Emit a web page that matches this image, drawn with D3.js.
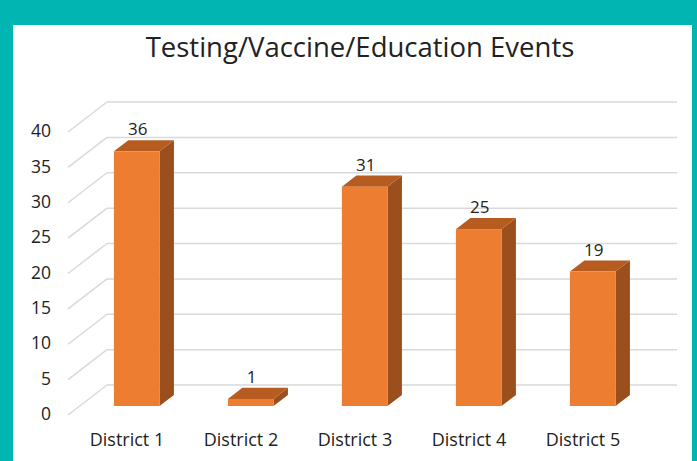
<!DOCTYPE html>
<html>
<head>
<meta charset="utf-8">
<script src="https://cdn.jsdelivr.net/npm/d3@7"></script>
<style>
  html, body { margin: 0; padding: 0; background: #00b5b2; }
  #chart { width: 697px; height: 461px; }
  text { font-family: "Open Sans", sans-serif; fill: #222222; }
</style>
</head>
<body>
<div id="chart"></div>
<script>
// Chart data
const districts = ["District 1", "District 2", "District 3", "District 4", "District 5"];
const events = [36, 1, 31, 25, 19];
const yTicks = [0, 5, 10, 15, 20, 25, 30, 35, 40];
const title = "Testing/Vaccine/Education Events";

const width = 697;
const height = 461;

const svg = d3.select("#chart")
    .append("svg")
    .attr("width", width)
    .attr("height", height);

// White chart area inside the teal frame
svg.append("rect")
    .attr("x", 13).attr("y", 25)
    .attr("width", 679).attr("height", height - 25)
    .attr("fill", "#ffffff");

// Front plane scales, depth is an oblique offset
const x = d3.scaleBand()
    .domain(districts)
    .range([68, 638])
    .paddingInner(0.6)
    .paddingOuter(0.3);

const y = d3.scaleLinear()
    .domain([0, 40])
    .range([415, 132]);

const depthX = 39, depthY = 30;   // wall depth
const barFront = 0.3, barBack = 0.67;  // bar position in depth (0 = front, 1 = back wall)

const px = (xv, z) => xv + depthX * z;
const py = (v, z) => y(v) - depthY * z;

const gridColor = "#d9d9d9";

// Back wall gridlines
svg.append("g")
    .selectAll("line")
    .data(yTicks)
    .enter().append("line")
    .attr("x1", px(68, 1))
    .attr("x2", px(638, 1))
    .attr("y1", d => py(d, 1))
    .attr("y2", d => py(d, 1))
    .attr("stroke", gridColor)
    .attr("stroke-width", 1.5);

// Side wall diagonals
svg.append("g")
    .selectAll("line")
    .data(yTicks)
    .enter().append("line")
    .attr("x1", px(68, 0))
    .attr("x2", px(68, 1))
    .attr("y1", d => py(d, 0))
    .attr("y2", d => py(d, 1))
    .attr("stroke", gridColor)
    .attr("stroke-width", 1.5);

// Y axis labels
svg.append("g")
    .selectAll("text")
    .data(yTicks)
    .enter().append("text")
    .attr("x", 51)
    .attr("y", d => y(d) - 1)
    .attr("dy", "0.35em")
    .attr("text-anchor", "end")
    .attr("font-size", 17.5)
    .text(d => d);

// 3D bars
const bars = svg.append("g")
    .selectAll("g")
    .data(districts.map((d, i) => ({ name: d, value: events[i] })))
    .enter().append("g");

const poly = pts => pts.map(p => p.join(",")).join(" ");

// side face
bars.append("polygon")
    .attr("points", d => {
        const x1 = x(d.name) + x.bandwidth();
        return poly([
            [px(x1, barFront), py(0, barFront)],
            [px(x1, barFront), py(d.value, barFront)],
            [px(x1, barBack), py(d.value, barBack)],
            [px(x1, barBack), py(0, barBack)]
        ]);
    })
    .attr("fill", "#9a4f1d");

// top face
bars.append("polygon")
    .attr("points", d => {
        const x0 = x(d.name), x1 = x0 + x.bandwidth();
        return poly([
            [px(x0, barFront), py(d.value, barFront)],
            [px(x1, barFront), py(d.value, barFront)],
            [px(x1, barBack), py(d.value, barBack)],
            [px(x0, barBack), py(d.value, barBack)]
        ]);
    })
    .attr("fill", "#b65c20");

// front face
bars.append("rect")
    .attr("x", d => px(x(d.name), barFront))
    .attr("y", d => py(d.value, barFront))
    .attr("width", x.bandwidth())
    .attr("height", d => py(0, barFront) - py(d.value, barFront))
    .attr("fill", "#ed7d31");

// value labels
bars.append("text")
    .attr("x", d => px(x(d.name) + x.bandwidth() / 2, barFront) + 1)
    .attr("y", d => py(d.value, barFront) - 16)
    .attr("text-anchor", "middle")
    .attr("font-size", 17)
    .text(d => d.value);

// Category labels
svg.append("g")
    .selectAll("text")
    .data(districts)
    .enter().append("text")
    .attr("x", d => x(d) + x.bandwidth() / 2 + 2)
    .attr("y", 446)
    .attr("text-anchor", "middle")
    .attr("font-size", 18)
    .text(d => d);

// Title
svg.append("text")
    .attr("x", 360)
    .attr("y", 57)
    .attr("text-anchor", "middle")
    .attr("font-size", 27.5)
    .text(title);
</script>
</body>
</html>
